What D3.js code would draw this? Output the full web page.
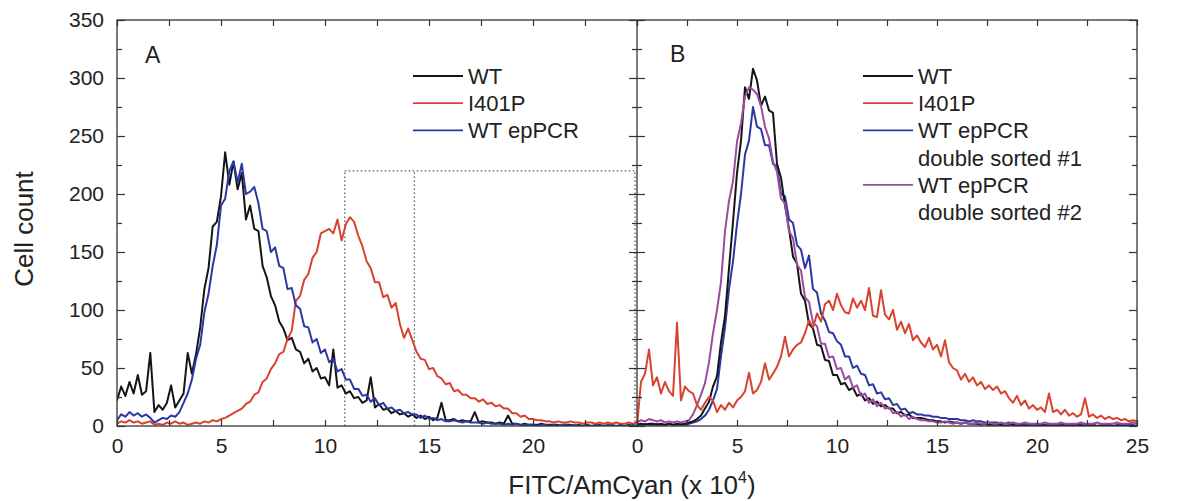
<!DOCTYPE html>
<html>
<head>
<meta charset="utf-8">
<script src="https://cdn.jsdelivr.net/npm/d3@7"></script>
<style>
  body { margin: 0; background: #fff; }
  svg text { font-family: "Liberation Sans", Arial, Helvetica, sans-serif; fill: #222; }
</style>
</head>
<body>
<svg id="chart" width="1183" height="501"></svg>
<script>
// histogram bins: 0, 0.2, 0.4 ... 25 (x 10^4)
const binStep = 0.2;

// Panel A
const wtA = [
  22,34,26,38,28,44,27,30,63,12,
  18,14,20,35,16,22,28,63,45,62,
  85,118,136,172,176,198,236,208,228,204,
  218,178,190,170,168,138,128,112,104,90,
  84,74,76,66,64,54,58,47,50,41,
  42,35,66,33,35,28,30,24,25,20,
  22,42,16,19,14,15,11,13,10,11,
  8,10,7,9,6,8,5,7,20,5,
  5,6,4,5,4,4,12,3,4,3,
  3,2,3,2,9,2,2,1,2,1,
  1,1,2,1,1,1,1,0,1,1,
  0,1,0,1,0,0,1,0,0,1,
  0,0,0,1,0,0
];
const i401pA = [
  2,4,3,5,3,4,2,3,4,1,
  2,1,3,2,4,2,3,1,2,3,
  2,4,3,5,4,6,7,9,11,13,
  15,19,21,27,29,38,41,49,54,62,
  64,75,82,108,112,126,131,145,150,166,
  168,170,166,178,160,174,180,176,164,155,
  142,136,124,124,111,113,102,106,88,76,
  84,74,64,58,57,49,50,43,41,36,
  37,30,31,27,27,24,24,21,23,19,
  20,17,18,15,15,11,11,8,9,6,
  6,5,5,4,4,3,4,3,3,4,
  3,3,2,3,3,2,3,2,3,2,
  3,2,2,3,2,3
];
const epA = [
  5,10,8,12,9,11,8,10,7,3,
  5,7,6,9,8,12,20,28,40,58,
  70,98,114,138,156,190,196,220,228,210,
  226,200,202,206,192,170,168,150,154,138,
  136,118,119,104,101,86,85,72,75,63,
  66,55,58,47,49,40,40,32,32,26,
  27,21,24,18,20,15,16,13,14,11,
  12,10,10,7,9,6,7,5,6,4,
  4,5,4,3,4,3,3,3,2,3,
  2,2,2,1,2,1,2,1,1,1,
  1,0,1,1,0,1,0,1,1,0,
  1,0,0,1,0,1,0,0,1,0,
  0,1,0,0,1,0
];

// Panel B
const wtB = [
  1,2,1,2,2,1,2,1,2,1,
  2,1,2,3,4,6,9,15,21,34,
  43,72,95,136,176,218,246,292,282,308,
  298,276,284,272,270,226,214,190,170,146,
  140,114,108,88,84,70,69,57,56,44,
  44,36,37,31,33,26,28,22,24,19,
  21,17,18,15,15,11,12,9,10,7,
  7,7,6,5,5,4,4,3,4,3,
  3,2,3,2,2,2,1,2,1,1,
  1,1,0,1,1,0,1,0,1,0,
  0,1,0,0,1,0,0,1,0,0,
  1,0,0,0,1,0,0,0,1,0,
  0,0,1,0,0,0
];
const i401pB = [
  0,38,45,66,35,42,28,38,30,26,
  89,22,34,30,28,18,14,20,25,22,
  12,18,14,20,16,22,25,30,46,28,
  31,38,54,40,45,51,60,77,60,66,
  70,72,80,91,85,97,90,105,108,100,
  114,104,98,97,110,102,108,100,119,95,
  94,117,96,92,100,83,90,80,88,74,
  78,72,68,76,66,70,60,74,55,50,
  48,40,45,38,42,35,38,32,35,31,
  34,28,30,24,20,26,18,22,15,18,
  14,16,12,28,12,14,10,14,9,11,
  8,10,24,8,10,7,9,6,8,6,
  7,5,6,4,5,4
];
const ep1B = [
  1,1,2,1,1,2,1,1,2,1,
  1,2,1,2,3,4,6,9,14,22,
  32,60,85,118,142,174,200,234,246,275,
  258,256,242,242,226,224,200,198,178,175,
  156,152,136,147,118,115,97,91,81,80,
  73,70,60,60,50,52,45,44,35,36,
  28,29,23,24,18,19,14,15,11,12,
  10,10,9,9,8,8,7,7,6,6,
  6,5,5,4,5,4,4,3,3,3,
  3,2,2,3,2,2,1,2,2,1,
  2,1,1,2,1,1,2,1,1,1,
  1,2,1,1,1,0,1,1,1,0,
  1,1,0,1,1,0
];
const ep2B = [
  3,5,4,6,5,4,5,3,4,3,
  4,3,4,5,10,18,27,37,55,80,
  100,124,168,194,211,245,261,284,292,290,
  286,276,258,248,228,219,196,192,168,162,
  139,134,111,107,89,86,71,71,59,60,
  49,50,40,43,33,35,26,28,20,23,
  17,20,15,16,11,12,8,10,6,8,
  6,5,5,4,4,3,3,4,3,2,
  3,2,3,2,2,3,2,2,3,2,
  2,3,2,2,3,2,2,3,2,2,
  2,2,3,2,2,2,3,2,2,2,
  2,3,2,2,2,3,2,2,2,2,
  3,2,2,2,3,2
];

const xMajor = [0, 5, 10, 15, 20, 25];
const xMinor = [2.5, 7.5, 12.5, 17.5, 22.5];
const yMajor = [0, 50, 100, 150, 200, 250, 300, 350];
const yMinor = [25, 75, 125, 175, 225, 275, 325];

// sort gates drawn in panel A (x 10^4, cell count)
const gateX = [10.95, 14.3, 24.9];
const gateTop = 220;

const colors = { wt: '#151515', i401p: '#d8432f', ep: '#2b38a3', ep2: '#9b4c9f' };
const legendA = [
  { lines: ['WT'], color: colors.wt },
  { lines: ['I401P'], color: colors.i401p },
  { lines: ['WT epPCR'], color: colors.ep }
];
const legendB = [
  { lines: ['WT'], color: colors.wt },
  { lines: ['I401P'], color: colors.i401p },
  { lines: ['WT epPCR', 'double sorted #1'], color: colors.ep },
  { lines: ['WT epPCR', 'double sorted #2'], color: colors.ep2 }
];

const svg = d3.select('#chart');
const plotTop = 20, plotBottom = 426, plotLeft = 117, plotMid = 637, plotRight = 1137;
const y = d3.scaleLinear().domain([0, 350]).range([plotBottom, plotTop]);
const xA = d3.scaleLinear().domain([0, 25]).range([plotLeft, plotMid]);
const xB = d3.scaleLinear().domain([0, 25]).range([plotMid, plotRight]);

const defs = svg.append('defs');
defs.append('clipPath').attr('id', 'clipA').append('rect')
    .attr('x', plotLeft).attr('y', plotTop).attr('width', plotMid - plotLeft).attr('height', plotBottom - plotTop);
defs.append('clipPath').attr('id', 'clipB').append('rect')
    .attr('x', plotMid).attr('y', plotTop).attr('width', plotRight - plotMid).attr('height', plotBottom - plotTop);

// gates
const gate = svg.append('g')
    .attr('stroke', '#555').attr('stroke-width', 1.2)
    .attr('stroke-dasharray', '1.5,2.5').attr('fill', 'none');
gateX.forEach(g => {
    gate.append('line').attr('x1', xA(g)).attr('x2', xA(g))
        .attr('y1', y(0)).attr('y2', y(gateTop));
});
gate.append('line').attr('x1', xA(gateX[0])).attr('x2', xA(gateX[2]))
    .attr('y1', y(gateTop)).attr('y2', y(gateTop));

function drawSeries(clip, x, values, color) {
    const line = d3.line()
        .x((d, i) => x(i * binStep))
        .y(d => y(d));
    svg.append('path')
        .datum(values)
        .attr('clip-path', `url(#${clip})`)
        .attr('d', line)
        .attr('fill', 'none')
        .attr('stroke', color)
        .attr('stroke-width', 2)
        .attr('stroke-linejoin', 'round');
}

drawSeries('clipA', xA, wtA, colors.wt);
drawSeries('clipA', xA, i401pA, colors.i401p);
drawSeries('clipA', xA, epA, colors.ep);

drawSeries('clipB', xB, ep1B, colors.ep);
drawSeries('clipB', xB, wtB, colors.wt);
drawSeries('clipB', xB, ep2B, colors.ep2);
drawSeries('clipB', xB, i401pB, colors.i401p);

// frame
svg.append('rect')
    .attr('x', plotLeft).attr('y', plotTop)
    .attr('width', plotRight - plotLeft).attr('height', plotBottom - plotTop)
    .attr('fill', 'none').attr('stroke', '#333').attr('stroke-width', 1.3);
svg.append('line')
    .attr('x1', plotMid).attr('x2', plotMid).attr('y1', plotTop).attr('y2', plotBottom)
    .attr('stroke', '#333').attr('stroke-width', 1.3);

function styleAxis(g) {
    g.select('.domain').remove();
    g.selectAll('line').attr('stroke', '#333').attr('stroke-width', 1.2);
    g.selectAll('text')
        .attr('font-size', 21)
        .attr('font-family', '"Liberation Sans", Arial, Helvetica, sans-serif')
        .attr('fill', '#222');
}

// x axes
svg.append('g').attr('transform', `translate(0,${plotBottom})`)
    .call(d3.axisBottom(xA).tickValues(xMajor.slice(0, 5)).tickSize(-6).tickPadding(12))
    .call(styleAxis);
svg.append('g').attr('transform', `translate(0,${plotBottom})`)
    .call(d3.axisBottom(xB).tickValues(xMajor).tickSize(-6).tickPadding(12))
    .call(styleAxis);
[xA, xB].forEach(x => {
    svg.append('g').attr('transform', `translate(0,${plotBottom})`)
        .call(d3.axisBottom(x).tickValues(xMinor).tickSize(-6).tickFormat(''))
        .call(styleAxis);
    svg.append('g').attr('transform', `translate(0,${plotTop})`)
        .call(d3.axisTop(x).tickValues(xMajor.concat(xMinor)).tickSize(-6).tickFormat(''))
        .call(styleAxis);
});

// y axes
svg.append('g').attr('transform', `translate(${plotLeft},0)`)
    .call(d3.axisLeft(y).tickValues(yMajor).tickSize(-8).tickPadding(13))
    .call(styleAxis);
svg.append('g').attr('transform', `translate(${plotLeft},0)`)
    .call(d3.axisLeft(y).tickValues(yMinor).tickSize(-5).tickFormat(''))
    .call(styleAxis);
[[yMajor, 8], [yMinor, 5]].forEach(([vals, len]) => {
    svg.append('g').attr('transform', `translate(${plotMid},0)`)
        .call(d3.axisLeft(y).tickValues(vals).tickSize(len).tickFormat(''))
        .call(styleAxis);
    svg.append('g').attr('transform', `translate(${plotMid},0)`)
        .call(d3.axisRight(y).tickValues(vals).tickSize(len).tickFormat(''))
        .call(styleAxis);
    svg.append('g').attr('transform', `translate(${plotRight},0)`)
        .call(d3.axisRight(y).tickValues(vals).tickSize(-len).tickFormat(''))
        .call(styleAxis);
});

// panel letters
svg.append('text').attr('x', 145).attr('y', 63).attr('font-size', 23).text('A');
svg.append('text').attr('x', 670).attr('y', 62).attr('font-size', 23).text('B');

// legends
function drawLegend(entries, x0, y0) {
    const rowH = 27.2;
    let row = 0;
    entries.forEach(e => {
        const yy = y0 + row * rowH;
        svg.append('line')
            .attr('x1', x0).attr('x2', x0 + 50)
            .attr('y1', yy).attr('y2', yy)
            .attr('stroke', e.color).attr('stroke-width', 1.8);
        e.lines.forEach((t, k) => {
            svg.append('text')
                .attr('x', x0 + 55).attr('y', yy + k * rowH)
                .attr('dy', '0.36em')
                .attr('font-size', 22)
                .text(t);
        });
        row += e.lines.length;
    });
}
drawLegend(legendA, 413, 76);
drawLegend(legendB, 863, 76);

// axis titles
svg.append('text')
    .attr('transform', 'translate(33,229) rotate(-90)')
    .attr('text-anchor', 'middle')
    .attr('font-size', 26)
    .text('Cell count');

const xt = svg.append('text')
    .attr('x', 632).attr('y', 494)
    .attr('text-anchor', 'middle')
    .attr('font-size', 26);
xt.append('tspan').text('FITC/AmCyan (x 10');
xt.append('tspan').attr('font-size', 16).attr('dy', -11).text('4');
xt.append('tspan').attr('dy', 11).text(')');
</script>
</body>
</html>
